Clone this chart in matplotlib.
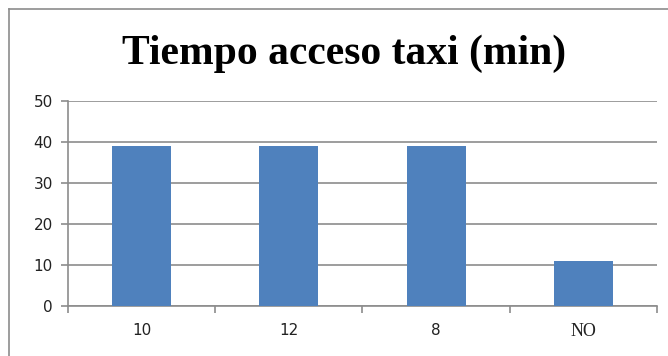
import matplotlib.pyplot as plt

# data
categories = ["10", "12", "8", "NO"]
values = [39, 39, 39, 11]
yticks = [0, 10, 20, 30, 40, 50]

fig = plt.figure(figsize=(6.68, 3.56), dpi=100)
ax = fig.add_axes([0.1018, 0.1404, 0.8817, 0.5759])

x = range(len(categories))
ax.bar(x, values, width=0.4, color="#4F81BD", zorder=3)

ax.set_xlim(-0.5, len(categories) - 0.5)
ax.set_ylim(0, 50)
ax.set_yticks(yticks)
ax.yaxis.grid(True, color="#8C8C8C", linewidth=1.2, zorder=0)

# category ticks between bars, labels at the centers
ax.set_xticks([i - 0.5 for i in range(len(categories) + 1)])
ax.set_xticklabels([])
ax.set_xticks(list(x), minor=True)
ax.set_xticklabels(categories, minor=True)
ax.tick_params(axis="x", which="minor", length=0, pad=12, labelsize=11, labelcolor="#222222")
ax.tick_params(axis="x", which="major", length=5, width=1.2, color="#8C8C8C")
ax.tick_params(axis="y", length=5, width=1.2, color="#8C8C8C", labelsize=11,
               labelcolor="#222222", pad=6)
for lbl in ax.get_xticklabels(minor=True):
    if lbl.get_text() == "NO":
        lbl.set_fontfamily("Liberation Serif")
        lbl.set_fontsize(13)

for side in ["top", "right"]:
    ax.spines[side].set_visible(False)
for side in ["left", "bottom"]:
    ax.spines[side].set_color("#8C8C8C")
    ax.spines[side].set_linewidth(1.2)

fig.text(0.515, 0.85, "Tiempo acceso taxi (min)", ha="center", va="center",
         fontsize=30, fontweight="bold", fontfamily="Liberation Serif")

# chart frame (only top and left edges visible in the original)
fig.add_artist(plt.Line2D([9 / 668, 1], [1 - 9 / 356, 1 - 9 / 356],
                          transform=fig.transFigure, color="#8C8C8C", linewidth=1.2))
fig.add_artist(plt.Line2D([9 / 668, 9 / 668], [0, 1 - 9 / 356],
                          transform=fig.transFigure, color="#8C8C8C", linewidth=1.2))

fig.savefig("out.png", dpi=100)
